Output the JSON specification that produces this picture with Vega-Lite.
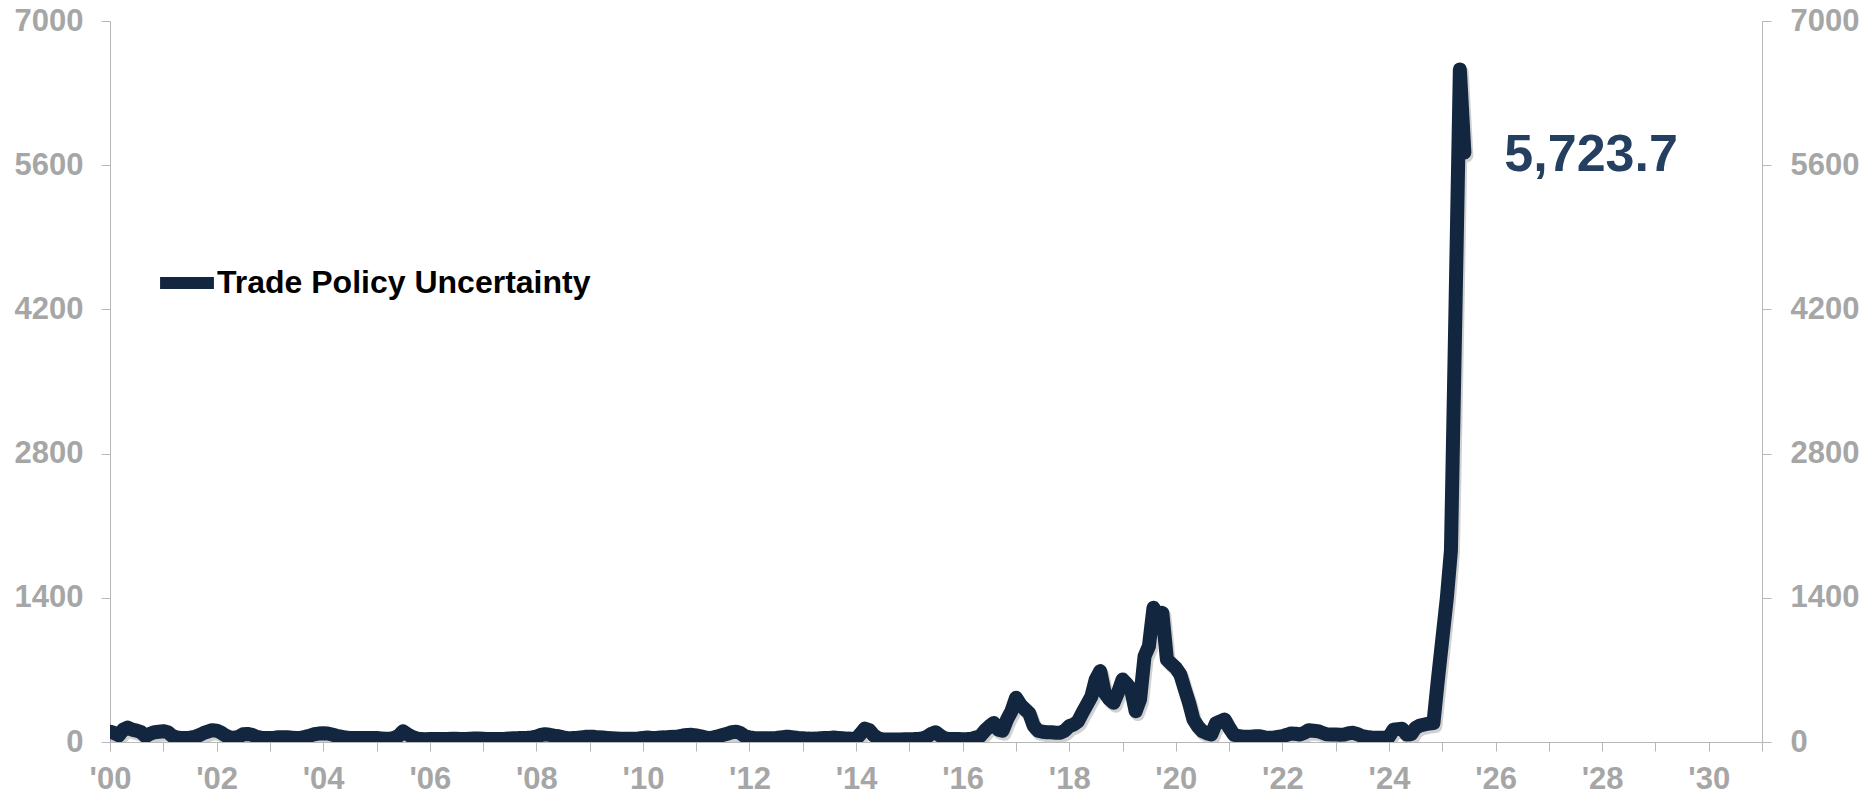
{
"$schema": "https://vega.github.io/schema/vega-lite/v6.json",
"autosize": "none",
"width": 1652, "height": 721,
"padding": {"left": 110, "top": 21, "right": 100, "bottom": 53},
"background": "white",
"config": {"view": {"stroke": null}, "font": "Liberation Sans"},
"data": {"values": [
{"d":"2000-01-01","v":100},{"d":"2000-02-01","v":85},{"d":"2000-03-01","v":65},{"d":"2000-04-01","v":120},{"d":"2000-05-01","v":140},{"d":"2000-06-01","v":120},{"d":"2000-07-01","v":110},{"d":"2000-08-01","v":95},{"d":"2000-09-01","v":55},{"d":"2000-10-01","v":80},{"d":"2000-11-01","v":95},{"d":"2000-12-01","v":100},
{"d":"2001-01-01","v":105},{"d":"2001-02-01","v":95},{"d":"2001-03-01","v":60},{"d":"2001-04-01","v":45},{"d":"2001-05-01","v":40},{"d":"2001-06-01","v":40},{"d":"2001-07-01","v":42},{"d":"2001-08-01","v":48},{"d":"2001-09-01","v":65},{"d":"2001-10-01","v":85},{"d":"2001-11-01","v":100},{"d":"2001-12-01","v":115},
{"d":"2002-01-01","v":110},{"d":"2002-02-01","v":90},{"d":"2002-03-01","v":65},{"d":"2002-04-01","v":45},{"d":"2002-05-01","v":40},{"d":"2002-06-01","v":50},{"d":"2002-07-01","v":75},{"d":"2002-08-01","v":78},{"d":"2002-09-01","v":70},{"d":"2002-10-01","v":50},{"d":"2002-11-01","v":42},{"d":"2002-12-01","v":40},
{"d":"2003-01-01","v":40},{"d":"2003-02-01","v":42},{"d":"2003-03-01","v":46},{"d":"2003-04-01","v":47},{"d":"2003-05-01","v":46},{"d":"2003-06-01","v":42},{"d":"2003-07-01","v":38},{"d":"2003-08-01","v":40},{"d":"2003-09-01","v":50},{"d":"2003-10-01","v":62},{"d":"2003-11-01","v":75},{"d":"2003-12-01","v":82},
{"d":"2004-01-01","v":85},{"d":"2004-02-01","v":83},{"d":"2004-03-01","v":73},{"d":"2004-04-01","v":60},{"d":"2004-05-01","v":52},{"d":"2004-06-01","v":43},{"d":"2004-07-01","v":40},{"d":"2004-08-01","v":40},{"d":"2004-09-01","v":40},{"d":"2004-10-01","v":40},{"d":"2004-11-01","v":38},{"d":"2004-12-01","v":40},
{"d":"2005-01-01","v":40},{"d":"2005-02-01","v":35},{"d":"2005-03-01","v":31},{"d":"2005-04-01","v":31},{"d":"2005-05-01","v":40},{"d":"2005-06-01","v":60},{"d":"2005-07-01","v":105},{"d":"2005-08-01","v":75},{"d":"2005-09-01","v":50},{"d":"2005-10-01","v":35},{"d":"2005-11-01","v":28},{"d":"2005-12-01","v":27},
{"d":"2006-01-01","v":28},{"d":"2006-02-01","v":28},{"d":"2006-03-01","v":30},{"d":"2006-04-01","v":30},{"d":"2006-05-01","v":30},{"d":"2006-06-01","v":32},{"d":"2006-07-01","v":32},{"d":"2006-08-01","v":30},{"d":"2006-09-01","v":30},{"d":"2006-10-01","v":32},{"d":"2006-11-01","v":34},{"d":"2006-12-01","v":34},
{"d":"2007-01-01","v":32},{"d":"2007-02-01","v":30},{"d":"2007-03-01","v":30},{"d":"2007-04-01","v":30},{"d":"2007-05-01","v":30},{"d":"2007-06-01","v":32},{"d":"2007-07-01","v":35},{"d":"2007-08-01","v":37},{"d":"2007-09-01","v":38},{"d":"2007-10-01","v":40},{"d":"2007-11-01","v":42},{"d":"2007-12-01","v":45},
{"d":"2008-01-01","v":53},{"d":"2008-02-01","v":68},{"d":"2008-03-01","v":75},{"d":"2008-04-01","v":70},{"d":"2008-05-01","v":62},{"d":"2008-06-01","v":56},{"d":"2008-07-01","v":45},{"d":"2008-08-01","v":37},{"d":"2008-09-01","v":38},{"d":"2008-10-01","v":40},{"d":"2008-11-01","v":45},{"d":"2008-12-01","v":50},
{"d":"2009-01-01","v":50},{"d":"2009-02-01","v":50},{"d":"2009-03-01","v":45},{"d":"2009-04-01","v":43},{"d":"2009-05-01","v":40},{"d":"2009-06-01","v":37},{"d":"2009-07-01","v":35},{"d":"2009-08-01","v":32},{"d":"2009-09-01","v":31},{"d":"2009-10-01","v":31},{"d":"2009-11-01","v":32},{"d":"2009-12-01","v":34},
{"d":"2010-01-01","v":40},{"d":"2010-02-01","v":43},{"d":"2010-03-01","v":40},{"d":"2010-04-01","v":40},{"d":"2010-05-01","v":43},{"d":"2010-06-01","v":45},{"d":"2010-07-01","v":48},{"d":"2010-08-01","v":50},{"d":"2010-09-01","v":55},{"d":"2010-10-01","v":63},{"d":"2010-11-01","v":68},{"d":"2010-12-01","v":70},
{"d":"2011-01-01","v":63},{"d":"2011-02-01","v":55},{"d":"2011-03-01","v":45},{"d":"2011-04-01","v":37},{"d":"2011-05-01","v":45},{"d":"2011-06-01","v":56},{"d":"2011-07-01","v":68},{"d":"2011-08-01","v":80},{"d":"2011-09-01","v":95},{"d":"2011-10-01","v":100},{"d":"2011-11-01","v":85},{"d":"2011-12-01","v":55},
{"d":"2012-01-01","v":45},{"d":"2012-02-01","v":40},{"d":"2012-03-01","v":37},{"d":"2012-04-01","v":37},{"d":"2012-05-01","v":37},{"d":"2012-06-01","v":37},{"d":"2012-07-01","v":40},{"d":"2012-08-01","v":45},{"d":"2012-09-01","v":50},{"d":"2012-10-01","v":50},{"d":"2012-11-01","v":45},{"d":"2012-12-01","v":40},
{"d":"2013-01-01","v":37},{"d":"2013-02-01","v":33},{"d":"2013-03-01","v":31},{"d":"2013-04-01","v":33},{"d":"2013-05-01","v":37},{"d":"2013-06-01","v":40},{"d":"2013-07-01","v":40},{"d":"2013-08-01","v":43},{"d":"2013-09-01","v":40},{"d":"2013-10-01","v":37},{"d":"2013-11-01","v":33},{"d":"2013-12-01","v":31},
{"d":"2014-01-01","v":31},{"d":"2014-02-01","v":80},{"d":"2014-03-01","v":130},{"d":"2014-04-01","v":115},{"d":"2014-05-01","v":65},{"d":"2014-06-01","v":35},{"d":"2014-07-01","v":26},{"d":"2014-08-01","v":24},{"d":"2014-09-01","v":24},{"d":"2014-10-01","v":24},{"d":"2014-11-01","v":25},{"d":"2014-12-01","v":26},
{"d":"2015-01-01","v":27},{"d":"2015-02-01","v":28},{"d":"2015-03-01","v":30},{"d":"2015-04-01","v":35},{"d":"2015-05-01","v":50},{"d":"2015-06-01","v":80},{"d":"2015-07-01","v":95},{"d":"2015-08-01","v":60},{"d":"2015-09-01","v":35},{"d":"2015-10-01","v":30},{"d":"2015-11-01","v":28},{"d":"2015-12-01","v":28},
{"d":"2016-01-01","v":27},{"d":"2016-02-01","v":28},{"d":"2016-03-01","v":30},{"d":"2016-04-01","v":45},{"d":"2016-05-01","v":57},{"d":"2016-06-01","v":110},{"d":"2016-07-01","v":150},{"d":"2016-08-01","v":185},{"d":"2016-09-01","v":120},{"d":"2016-10-01","v":110},{"d":"2016-11-01","v":220},{"d":"2016-12-01","v":300},
{"d":"2017-01-01","v":430},{"d":"2017-02-01","v":360},{"d":"2017-03-01","v":320},{"d":"2017-04-01","v":280},{"d":"2017-05-01","v":160},{"d":"2017-06-01","v":110},{"d":"2017-07-01","v":100},{"d":"2017-08-01","v":95},{"d":"2017-09-01","v":95},{"d":"2017-10-01","v":90},{"d":"2017-11-01","v":90},{"d":"2017-12-01","v":110},
{"d":"2018-01-01","v":154},{"d":"2018-02-01","v":170},{"d":"2018-03-01","v":200},{"d":"2018-04-01","v":283},{"d":"2018-05-01","v":360},{"d":"2018-06-01","v":440},{"d":"2018-07-01","v":607},{"d":"2018-08-01","v":688},{"d":"2018-09-01","v":477},{"d":"2018-10-01","v":420},{"d":"2018-11-01","v":380},{"d":"2018-12-01","v":480},
{"d":"2019-01-01","v":607},{"d":"2019-02-01","v":560},{"d":"2019-03-01","v":510},{"d":"2019-04-01","v":299},{"d":"2019-05-01","v":413},{"d":"2019-06-01","v":833},{"d":"2019-07-01","v":931},{"d":"2019-08-01","v":1303},{"d":"2019-09-01","v":1222},{"d":"2019-10-01","v":1254},{"d":"2019-11-01","v":801},{"d":"2019-12-01","v":760},
{"d":"2020-01-01","v":720},{"d":"2020-02-01","v":655},{"d":"2020-03-01","v":520},{"d":"2020-04-01","v":380},{"d":"2020-05-01","v":218},{"d":"2020-06-01","v":150},{"d":"2020-07-01","v":105},{"d":"2020-08-01","v":85},{"d":"2020-09-01","v":73},{"d":"2020-10-01","v":180},{"d":"2020-11-01","v":200},{"d":"2020-12-01","v":218},
{"d":"2021-01-01","v":140},{"d":"2021-02-01","v":73},{"d":"2021-03-01","v":60},{"d":"2021-04-01","v":52},{"d":"2021-05-01","v":50},{"d":"2021-06-01","v":52},{"d":"2021-07-01","v":57},{"d":"2021-08-01","v":55},{"d":"2021-09-01","v":45},{"d":"2021-10-01","v":42},{"d":"2021-11-01","v":42},{"d":"2021-12-01","v":50},
{"d":"2022-01-01","v":57},{"d":"2022-02-01","v":70},{"d":"2022-03-01","v":83},{"d":"2022-04-01","v":80},{"d":"2022-05-01","v":73},{"d":"2022-06-01","v":90},{"d":"2022-07-01","v":115},{"d":"2022-08-01","v":110},{"d":"2022-09-01","v":105},{"d":"2022-10-01","v":90},{"d":"2022-11-01","v":75},{"d":"2022-12-01","v":73},
{"d":"2023-01-01","v":73},{"d":"2023-02-01","v":70},{"d":"2023-03-01","v":73},{"d":"2023-04-01","v":85},{"d":"2023-05-01","v":89},{"d":"2023-06-01","v":75},{"d":"2023-07-01","v":57},{"d":"2023-08-01","v":50},{"d":"2023-09-01","v":45},{"d":"2023-10-01","v":42},{"d":"2023-11-01","v":42},{"d":"2023-12-01","v":42},
{"d":"2024-01-01","v":50},{"d":"2024-02-01","v":120},{"d":"2024-03-01","v":125},{"d":"2024-04-01","v":128},{"d":"2024-05-01","v":73},{"d":"2024-06-01","v":75},{"d":"2024-07-01","v":137},{"d":"2024-08-01","v":160},{"d":"2024-09-01","v":170},{"d":"2024-10-01","v":180},{"d":"2024-11-01","v":185},{"d":"2024-12-01","v":600},
{"d":"2025-01-01","v":1000},{"d":"2025-02-01","v":1400},{"d":"2025-03-01","v":1860},{"d":"2025-04-01","v":4200},{"d":"2025-05-01","v":6530},{"d":"2025-06-01","v":5723.7,"label":"5,723.7"}
]},
"encoding": {
  "x": {"field": "d", "type": "temporal",
    "scale": {"type": "utc", "domain": [{"year": 2000, "month": 1, "date": 1, "utc": true}, {"year": 2031, "month": 1, "date": 1, "utc": true}]},
    "axis": {"title": null, "grid": false,
      "values": [{"year":2000,"month":1,"date":1,"utc":true},{"year":2001,"month":1,"date":1,"utc":true},{"year":2002,"month":1,"date":1,"utc":true},{"year":2003,"month":1,"date":1,"utc":true},{"year":2004,"month":1,"date":1,"utc":true},{"year":2005,"month":1,"date":1,"utc":true},{"year":2006,"month":1,"date":1,"utc":true},{"year":2007,"month":1,"date":1,"utc":true},{"year":2008,"month":1,"date":1,"utc":true},{"year":2009,"month":1,"date":1,"utc":true},{"year":2010,"month":1,"date":1,"utc":true},{"year":2011,"month":1,"date":1,"utc":true},{"year":2012,"month":1,"date":1,"utc":true},{"year":2013,"month":1,"date":1,"utc":true},{"year":2014,"month":1,"date":1,"utc":true},{"year":2015,"month":1,"date":1,"utc":true},{"year":2016,"month":1,"date":1,"utc":true},{"year":2017,"month":1,"date":1,"utc":true},{"year":2018,"month":1,"date":1,"utc":true},{"year":2019,"month":1,"date":1,"utc":true},{"year":2020,"month":1,"date":1,"utc":true},{"year":2021,"month":1,"date":1,"utc":true},{"year":2022,"month":1,"date":1,"utc":true},{"year":2023,"month":1,"date":1,"utc":true},{"year":2024,"month":1,"date":1,"utc":true},{"year":2025,"month":1,"date":1,"utc":true},{"year":2026,"month":1,"date":1,"utc":true},{"year":2027,"month":1,"date":1,"utc":true},{"year":2028,"month":1,"date":1,"utc":true},{"year":2029,"month":1,"date":1,"utc":true},{"year":2030,"month":1,"date":1,"utc":true},{"year":2031,"month":1,"date":1,"utc":true}],
      "labelExpr": "utcyear(datum.value) % 2 == 0 && utcyear(datum.value) < 2031 ? \"'\" + utcFormat(datum.value, '%y') : ''",
      "tickSize": 9, "tickColor": "#b8b8b8", "domainColor": "#b8b8b8",
      "labelFont": "Liberation Sans", "labelFontSize": 31, "labelFontWeight": "bold", "labelColor": "#a6a6a6",
      "labelPadding": 13, "labelOverlap": false, "labelBound": false, "labelFlush": false}
  }
},
"layer": [
  {"mark": {"type": "line", "stroke": "#000000", "opacity": 0.18, "strokeWidth": 14, "xOffset": 2, "yOffset": 3, "strokeCap": "round", "strokeJoin": "round", "clip": true},
   "encoding": {"y": {"field": "v", "type": "quantitative", "scale": {"domain": [0, 7000]},
     "axis": {"orient": "right", "title": null, "grid": false, "values": [0, 1400, 2800, 4200, 5600, 7000], "format": "d",
       "tickSize": 9, "tickColor": "#b8b8b8", "domainColor": "#b8b8b8",
       "labelFont": "Liberation Sans", "labelFontSize": 31, "labelFontWeight": "bold", "labelColor": "#a6a6a6", "labelPadding": 19}}}},
  {"mark": {"type": "line", "strokeWidth": 14, "strokeCap": "round", "strokeJoin": "round", "clip": true},
   "encoding": {"y": {"field": "v", "type": "quantitative", "scale": {"domain": [0, 7000]},
     "axis": {"orient": "left", "title": null, "grid": false, "values": [0, 1400, 2800, 4200, 5600, 7000], "format": "d",
       "tickSize": 9, "tickColor": "#b8b8b8", "domainColor": "#b8b8b8",
       "labelFont": "Liberation Sans", "labelFontSize": 31, "labelFontWeight": "bold", "labelColor": "#a6a6a6", "labelPadding": 18}},
     "color": {"datum": "Trade Policy Uncertainty", "type": "nominal", "scale": {"range": ["#13263f"]},
       "legend": {"title": null, "orient": "none", "legendX": 44, "legendY": 229, "padding": 0,
         "symbolType": "stroke", "symbolStrokeWidth": 12, "symbolSize": 2900,
         "labelFont": "Liberation Sans", "labelFontSize": 32, "labelFontWeight": "bold", "labelColor": "#000000", "labelOffset": -3, "labelLimit": 0}}}},
  {"transform": [{"filter": "isValid(datum.label)"}],
   "mark": {"type": "text", "align": "left", "baseline": "middle", "dx": 40, "dy": 3, "font": "Liberation Sans", "fontSize": 52, "fontWeight": "bold", "color": "#243f60"},
   "encoding": {"y": {"field": "v", "type": "quantitative", "scale": {"domain": [0, 7000]}, "axis": null}, "text": {"field": "label"}}}
],
"resolve": {"scale": {"y": "independent"}}
}
